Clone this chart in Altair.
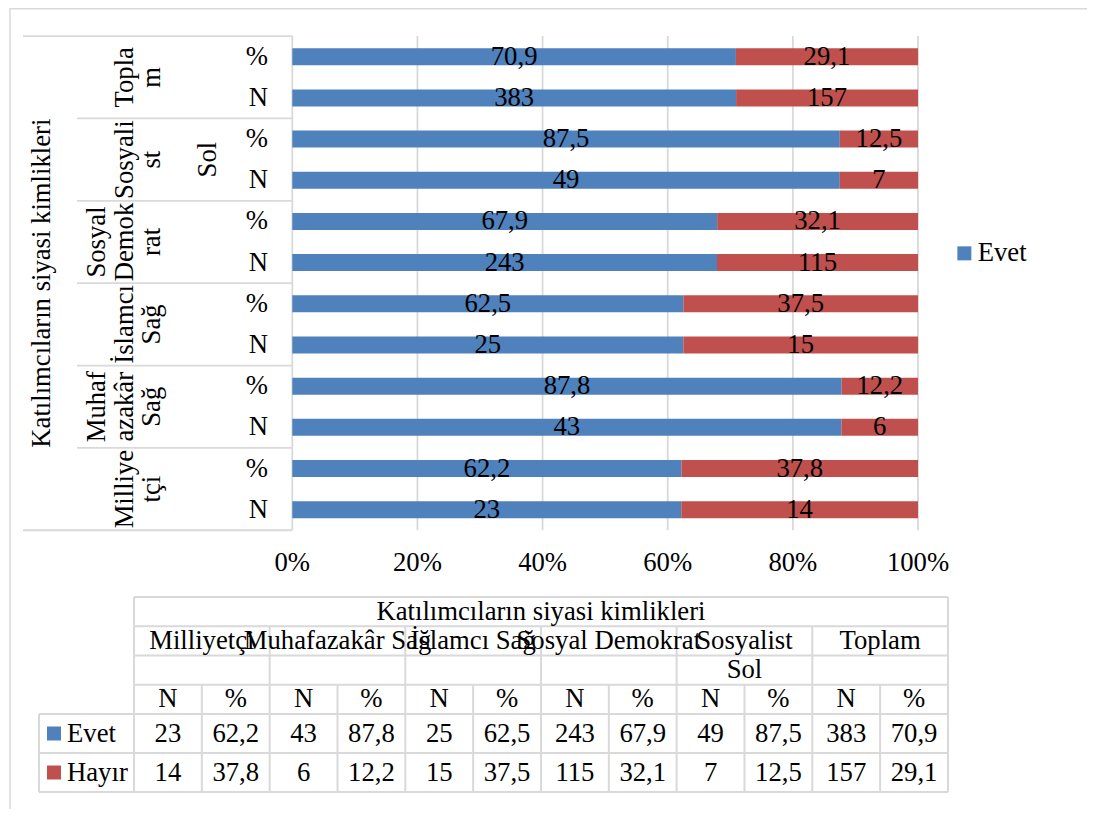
import altair as alt
import pandas as pd

# ---------------- data ----------------
groups = ["Milliyetçi", "Muhafazakâr Sağ", "İslamcı Sağ", "Sosyal Demokrat", "Sosyalist", "Toplam"]
group_sub = ["", "", "", "", "Sol", ""]
group_axis_lines = [["Milliye", "tçi"], ["Muhaf", "azakâr", "Sağ"], ["İslamcı", "Sağ"],
                    ["Sosyal", "Demok", "rat"], ["Sosyali", "st"], ["Topla", "m"]]
outer_label = "Katılımcıların siyasi kimlikleri"
measures = ["N", "%"]
series = ["Evet", "Hayır"]
evet_n = [23, 43, 25, 243, 49, 383]
evet_pct = [62.2, 87.8, 62.5, 67.9, 87.5, 70.9]
hayir_n = [14, 6, 15, 115, 7, 157]
hayir_pct = [37.8, 12.2, 37.5, 32.1, 12.5, 29.1]
tick_values = [0, 0.2, 0.4, 0.6, 0.8, 1.0]
tick_labels = ["0%", "20%", "40%", "60%", "80%", "100%"]
legend_values = ["Evet"]
series_colors = ["#4F81BD", "#C0504D"]

# ---------------- layout constants ----------------
FONT = "Liberation Serif"
FS = 26.7
GRID = "#D9D9D9"
W, H = 1079, 801
PAGE = 8
X0, X100 = 292.3, 918.0          # page x of 0% and 100%
ROW0_Y, ROW_STEP = 56.7, 41.18   # page y of first bar row, row pitch
BAR_H = 17
LINE_H = 27.5
TBL_LEFT, COLW = 134.0, 67.83    # table first data column left edge, column width
TBL_TOP, ROWH = 597.0, 29.25     # table top, header row height
ROWHEAD_LEFT = 39.0


def fmt(v, meas):
    return str(int(v)) if meas == "N" else f"{v:.1f}".replace(".", ",")


vals = {("Evet", "N"): evet_n, ("Evet", "%"): evet_pct,
        ("Hayır", "N"): hayir_n, ("Hayır", "%"): hayir_pct}

n_groups = len(groups)
n_rows = n_groups * len(measures)

# ---------------- scales for the bar section ----------------
span = X100 - X0
share_scale = alt.Scale(domain=[-(X0 - PAGE) / span, (W - (X0 - PAGE)) / span],
                        nice=False, zero=False, padding=0)
row_scale = alt.Scale(domain=[-(ROW0_Y - PAGE) / ROW_STEP, (H - (ROW0_Y - PAGE)) / ROW_STEP],
                      nice=False, zero=False, reverse=True, padding=0)
color_scale = alt.Scale(domain=series, range=series_colors)


def share_of(page_x):
    return (page_x - X0) / span


# bars
bar_rows = []
meas_rows = []
for g in range(n_groups):
    for m, meas in enumerate(measures):
        r = (n_groups - 1 - g) * len(measures) + (len(measures) - 1 - m)
        meas_rows.append(dict(row=r, text=meas))
        tot = sum(vals[(s, meas)][g] for s in series)
        cum = 0.0
        for s in series:
            v = vals[(s, meas)][g]
            sh = v / tot
            bar_rows.append(dict(series=s, row=r, x0=cum, x1=cum + sh, mid=cum + sh / 2,
                                 label=fmt(v, meas)))
            cum += sh
bars_df = pd.DataFrame(bar_rows)
meas_df = pd.DataFrame(meas_rows)

grp_rows = []
for g in range(n_groups):
    lines = group_axis_lines[g]
    for i, line in enumerate(lines):
        grp_rows.append(dict(row=(n_groups - 1 - g) * 2 + 0.5, text=line, k=len(lines) - 1 - i))
grp_df = pd.DataFrame(grp_rows)
max_lines = max(len(l) for l in group_axis_lines)
sub_df = pd.DataFrame([dict(row=(n_groups - 1 - g) * 2 + 0.5, text=group_sub[g])
                       for g in range(n_groups) if group_sub[g]])
outer_df = pd.DataFrame([dict(row=(n_rows - 1) / 2, text=outer_label)])

grid_df = pd.DataFrame([dict(x=t, ya=-0.5, yb=n_rows - 0.5) for t in tick_values])
tick_df = pd.DataFrame(dict(x=tick_values, text=tick_labels))

sep_rows = [dict(y=-0.5, xs=0.0, xl=share_of(23)), dict(y=n_rows - 0.5, xs=0.0, xl=share_of(23))]
for g in range(1, n_groups):
    sep_rows.append(dict(y=g * 2 - 0.5, xs=0.0, xl=share_of(77)))
sep_df = pd.DataFrame(sep_rows)

X = lambda f: alt.X(f, scale=share_scale, axis=None)
Y = lambda f: alt.Y(f, scale=row_scale, axis=None)

bars = alt.Chart(bars_df).mark_bar(size=BAR_H).encode(
    x=X("x0:Q"), x2="x1:Q", y=Y("row:Q"),
    color=alt.Color("series:N", scale=color_scale,
                    legend=alt.Legend(values=legend_values, title=None, orient="none",
                                      legendX=943, legendY=232, padding=0,
                                      symbolType="square", symbolSize=196, symbolStrokeWidth=0,
                                      labelFont=FONT, labelFontSize=FS, labelColor="black",
                                      labelOffset=0)))
bar_text = alt.Chart(bars_df).mark_text(font=FONT, fontSize=FS, color="black", baseline="middle").encode(
    x=X("mid:Q"), y=Y("row:Q"), text="label:N")
grid = alt.Chart(grid_df).mark_rule(color=GRID, strokeWidth=1.8).encode(
    x=X("x:Q"), y=Y("ya:Q"), y2="yb:Q")
seps = alt.Chart(sep_df).mark_rule(color=GRID, strokeWidth=1.8).encode(
    x=X("xl:Q"), x2="xs:Q", y=Y("y:Q"))
ticks = alt.Chart(tick_df).mark_text(font=FONT, fontSize=FS, color="black", baseline="alphabetic").encode(
    x=X("x:Q"), y=alt.value(571 - PAGE), text="text:N")
meas_text = alt.Chart(meas_df).mark_text(font=FONT, fontSize=FS, color="black", align="right",
                                         baseline="middle").encode(
    x=alt.value(268 - PAGE), y=Y("row:Q"), text="text:N")
grp_layers = []
for k in range(max_lines):
    grp_layers.append(
        alt.Chart(grp_df).transform_filter(alt.datum.k == k).mark_text(
            font=FONT, fontSize=FS, color="black", angle=270, align="center", baseline="alphabetic"
        ).encode(x=alt.value(160 - PAGE - k * LINE_H), y=Y("row:Q"), text="text:N"))
sub_text = alt.Chart(sub_df).mark_text(font=FONT, fontSize=FS, color="black", angle=270, align="center",
                                       baseline="alphabetic").encode(
    x=alt.value(216 - PAGE), y=Y("row:Q"), text="text:N")
outer_text = alt.Chart(outer_df).mark_text(font=FONT, fontSize=FS, color="black", angle=270, align="center",
                                           baseline="alphabetic").encode(
    x=alt.value(50 - PAGE), y=Y("row:Q"), text="text:N")
border = alt.Chart(pd.DataFrame({"a": [0]})).mark_rule(color=GRID, strokeWidth=1.5).encode(
    x=alt.value(2), x2=alt.value(2), y=alt.value(0), y2=alt.value(H))
border_top = alt.Chart(pd.DataFrame({"a": [0]})).mark_rule(color=GRID, strokeWidth=1.5).encode(
    x=alt.value(2), x2=alt.value(W), y=alt.value(0.75), y2=alt.value(0.75))

top = alt.layer(border, border_top, grid, seps, bars, bar_text, ticks, meas_text, *grp_layers, sub_text,
                outer_text)

# ---------------- data table ----------------
col_scale = alt.Scale(domain=[-(TBL_LEFT - PAGE) / COLW, (W - (TBL_LEFT - PAGE)) / COLW],
                      nice=False, zero=False, padding=0)
trow_scale = alt.Scale(domain=[-(TBL_TOP - PAGE) / ROWH, (H - (TBL_TOP - PAGE)) / ROWH],
                       nice=False, zero=False, reverse=True, padding=0)
TX = lambda f: alt.X(f, scale=col_scale, axis=None)
TY = lambda f: alt.Y(f, scale=trow_scale, axis=None)

n_cols = n_groups * len(measures)
val_h = 4.0 / 3.0
y_vals0 = 4.0
y_end = y_vals0 + val_h * len(series)
rh_left = (ROWHEAD_LEFT - TBL_LEFT) / COLW

hl = [dict(y=0, xa=0, xb=n_cols), dict(y=1, xa=0, xb=n_cols), dict(y=2, xa=0, xb=n_cols),
      dict(y=3, xa=0, xb=n_cols)]
for k in range(len(series) + 1):
    hl.append(dict(y=y_vals0 + k * val_h, xa=rh_left, xb=n_cols))
hl_df = pd.DataFrame(hl)
vl = [dict(x=0, ya=0, yb=y_end), dict(x=n_cols, ya=0, yb=y_end), dict(x=rh_left, ya=y_vals0, yb=y_end)]
for c in range(1, n_cols):
    vl.append(dict(x=c, ya=1 if c % 2 == 0 else 3, yb=y_end))
vl_df = pd.DataFrame(vl)

ttext = [dict(x=n_cols / 2, y=0.5, text=outer_label)]
for g in range(n_groups):
    ttext.append(dict(x=2 * g + 1, y=1.5, text=groups[g]))
    if group_sub[g]:
        ttext.append(dict(x=2 * g + 1, y=2.5, text=group_sub[g]))
    for m, meas in enumerate(measures):
        ttext.append(dict(x=2 * g + m + 0.5, y=3.5, text=meas))
        for si, s in enumerate(series):
            ttext.append(dict(x=2 * g + m + 0.5, y=y_vals0 + (si + 0.5) * val_h,
                              text=fmt(vals[(s, meas)][g], meas)))
ttext_df = pd.DataFrame(ttext)
rh_df = pd.DataFrame([dict(series=s, y=y_vals0 + (si + 0.5) * val_h) for si, s in enumerate(series)])

t_h = alt.Chart(hl_df).mark_rule(color=GRID, strokeWidth=2).encode(x=TX("xa:Q"), x2="xb:Q", y=TY("y:Q"))
t_v = alt.Chart(vl_df).mark_rule(color=GRID, strokeWidth=2).encode(x=TX("x:Q"), y=TY("ya:Q"), y2="yb:Q")
t_txt = alt.Chart(ttext_df).mark_text(font=FONT, fontSize=FS, color="black", baseline="middle").encode(
    x=TX("x:Q"), y=TY("y:Q"), text="text:N")
t_sq = alt.Chart(rh_df).mark_square(size=196, opacity=1, strokeWidth=0).encode(
    x=alt.value(54 - PAGE), y=TY("y:Q"),
    color=alt.Color("series:N", scale=color_scale, legend=None))
t_rh = alt.Chart(rh_df).mark_text(font=FONT, fontSize=FS, color="black", align="left", baseline="middle").encode(
    x=alt.value(67 - PAGE), y=TY("y:Q"), text="series:N")

table = alt.layer(t_h, t_v, t_txt, t_sq, t_rh)

chart = alt.layer(top, table).resolve_scale(x="independent", y="independent").properties(
    width=W, height=H, padding=0, autosize=alt.AutoSizeParams(type="none")
).configure(font=FONT).configure_view(strokeWidth=0).configure_legend(labelFont=FONT)

chart.save("out.html", embed_options={"renderer": "svg", "actions": False})
